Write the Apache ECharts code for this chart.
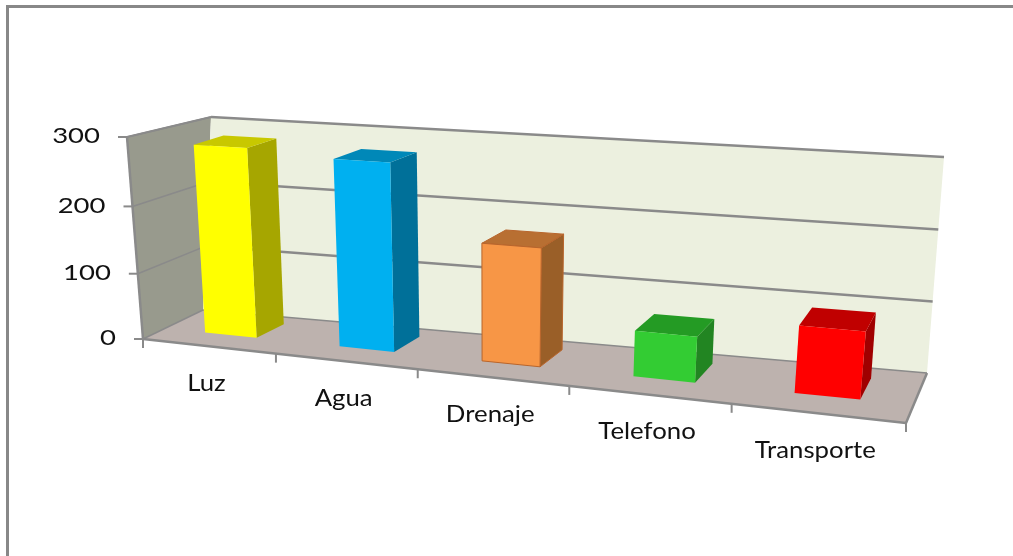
<!DOCTYPE html>
<html>
<head>
<meta charset="utf-8">
<script src="https://cdn.jsdelivr.net/npm/echarts@6/dist/echarts.min.js"></script>
<style>
html,body{margin:0;padding:0;background:#fff;}
#main{width:1013px;height:556px;}
</style>
</head>
<body>
<div id="main"></div>
<script>
var categories = ['Luz', 'Agua', 'Drenaje', 'Telefono', 'Transporte'];
var values = [282, 274, 170, 65, 93];
var valueTicks = [0, 100, 200, 300];
//front, top, side
var faceColors = [
	['#ffff00', '#c8c800', '#a6a600'],
	['#00b0f0', '#0088b8', '#007099'],
	['#f79646', '#b86f32', '#9a5f28'],
	['#33cc33', '#249b24', '#228522'],
	['#ff0000', '#c00000', '#a00000']
];
var faceBorders = ['none', 'none', '#b8652c', 'none', 'none'];

//hidden grid, its pixels are turned into the 3d box below
var gridW = 1000, gridH = 300;
//box planes: origin, end of the floor edge, top of the height edge, and perspective weights
var frontPlane = {o: [143, 339], u: [906, 423], v: [127, 137], wu: 0.844, wv: 0.955};
var backPlane = {o: [203, 310], u: [927, 373], v: [211, 117], wu: 0.8917, wv: 0.9902};
//the bars lean a little differently from the back wall in the picture
var barBackPlane = {o: [206, 310], u: [925, 373], v: [196, 117], wu: 0.8874, wv: 0.9665};
var barWidth = 0.39, barFrontDepth = 0.36, barBackDepth = 0.8;

function planePoint(p, u, v) {
	var w = 1 + u * (p.wu - 1) + v * (p.wv - 1);
	return [
		(p.o[0] + u * (p.wu * p.u[0] - p.o[0]) + v * (p.wv * p.v[0] - p.o[0])) / w,
		(p.o[1] + u * (p.wu * p.u[1] - p.o[1]) + v * (p.wv * p.v[1] - p.o[1])) / w
	];
}
function between(back, u, v, d) {
	var f = planePoint(frontPlane, u, v), b = planePoint(back, u, v);
	return [f[0] + (b[0] - f[0]) * d, f[1] + (b[1] - f[1]) * d];
}
function project(u, v, d) {
	return between(backPlane, u, v, d);
}
function barPoint(u, v, d) {
	return between(barBackPlane, u, v, d);
}
function fromPixel(pt) {
	return [pt[0] / gridW, 1 - pt[1] / gridH];
}
function poly(points, fill, stroke) {
	return {type: 'polygon', shape: {points: points}, style: {fill: fill, stroke: stroke || 'none', lineWidth: 1}};
}
function line(a, b, width) {
	return {type: 'line', shape: {x1: a[0], y1: a[1], x2: b[0], y2: b[1]}, style: {stroke: '#8a8a8a', lineWidth: width}};
}
function label(text, x, y, align, size, stretch) {
	return {
		type: 'text', x: x, y: y, scaleX: stretch,
		style: {text: text, x: 0, y: 0, align: align, verticalAlign: 'middle', fill: '#111',
			font: size + 'px Lato'}
	};
}

var lineWallData = valueTicks.map(function (t) { return [0, t]; });

var option = {
	animation: false,
	backgroundColor: '#fff',
	grid: {left: 0, top: 0, width: gridW, height: gridH, show: false},
	xAxis: {type: 'category', data: categories, show: false},
	yAxis: {type: 'value', min: 0, max: 300, interval: 100, show: false},
	graphic: [
		{type: 'rect', shape: {x: 6, y: 5, width: 1007, height: 3}, style: {fill: '#888'}},
		{type: 'rect', shape: {x: 6, y: 5, width: 3, height: 551}, style: {fill: '#888'}}
	],
	series: [
		{
			//walls and floor
			type: 'custom', silent: true, z: 1,
			data: [[0, 300]],
			renderItem: function () {
				return {type: 'group', children: [
					poly([project(0, 0, 0), project(0, 1, 0), project(0, 1, 1), project(0, 0, 1)], '#989a8d'),
					poly([project(0, 0, 1), project(0, 1, 1), project(1, 1, 1), project(1, 0, 1)], '#ecf0df'),
					poly([project(0, 0, 0), project(0, 0, 1), project(1, 0, 1), project(1, 0, 0)], '#bdb2ae')
				]};
			}
		},
		{
			//gridlines, ticks and value labels
			type: 'custom', silent: true, z: 2,
			data: lineWallData,
			renderItem: function (params, api) {
				var tick = api.value(1);
				var v = 1 - api.coord([0, tick])[1] / gridH;
				var a = project(0, v, 0), b = project(0, v, 1), c = project(1, v, 1);
				return {type: 'group', children: [
					line(a, b, 1.5),
					line(b, c, tick === 0 ? 1.5 : 2.5),
					line([a[0] - 9, a[1]], a, 2),
					label(String(tick), a[0] - 27, a[1] - 1, 'right', 22, 1.25)
				]};
			}
		},
		{
			//outer edges of the box and the category ticks
			type: 'custom', silent: true, z: 3,
			data: categories.map(function (c, i) { return [i, 0]; }).concat([[categories.length - 1, 0]]),
			renderItem: function (params, api) {
				var band = api.size([1, 0])[0] / gridW;
				var mid = fromPixel(api.coord([api.value(0), 0]))[0];
				var u = params.dataIndex === categories.length ? mid + band / 2 : mid - band / 2;
				var t = project(u, 0, 0);
				var kids = [line(t, [t[0], t[1] + 9], 2)];
				if (params.dataIndex === 0) {
					kids.push(line(project(0, 0, 0), project(1, 0, 0), 2.5));
					kids.push(line(project(0, 0, 0), project(0, 1, 0), 2.5));
					kids.push(line(project(0, 1, 0), project(0, 1, 1), 2));
					kids.push(line(project(1, 0, 0), project(1, 0, 1), 2.5));
				}
				return {type: 'group', children: kids};
			}
		},
		{
			//the bars
			type: 'custom', silent: true, z: 4,
			data: values.map(function (v, i) { return [i, v]; }),
			renderItem: function (params, api) {
				var i = api.value(0);
				var pt = fromPixel(api.coord([i, api.value(1)]));
				var half = api.size([1, 0])[0] / gridW * barWidth / 2;
				var u0 = pt[0] - half, u1 = pt[0] + half, h = pt[1];
				var d0 = barFrontDepth, d1 = barBackDepth;
				var colors = faceColors[i], border = faceBorders[i];
				return {type: 'group', children: [
					poly([barPoint(u1, 0, d0), barPoint(u1, h, d0), barPoint(u1, h, d1), barPoint(u1, 0, d1)], colors[2], border === 'none' ? null : border),
					poly([barPoint(u0, h, d0), barPoint(u0, h, d1), barPoint(u1, h, d1), barPoint(u1, h, d0)], colors[1], border === 'none' ? null : border),
					poly([barPoint(u0, 0, d0), barPoint(u0, h, d0), barPoint(u1, h, d0), barPoint(u1, 0, d0)], colors[0], border === 'none' ? null : border)
				]};
			}
		},
		{
			//category labels
			type: 'custom', silent: true, z: 5,
			data: categories.map(function (c, i) { return [i, 0]; }),
			renderItem: function (params, api) {
				var i = api.value(0);
				var u = fromPixel(api.coord([i, 0]))[0];
				var p = project(u, 0, 0);
				return label(categories[i], p[0] - 2, p[1] + 37, 'center', 23, 1.12);
			}
		}
	]
};
var myChart = echarts.init(document.getElementById('main'));
myChart.setOption(option);
</script>
</body>
</html>
